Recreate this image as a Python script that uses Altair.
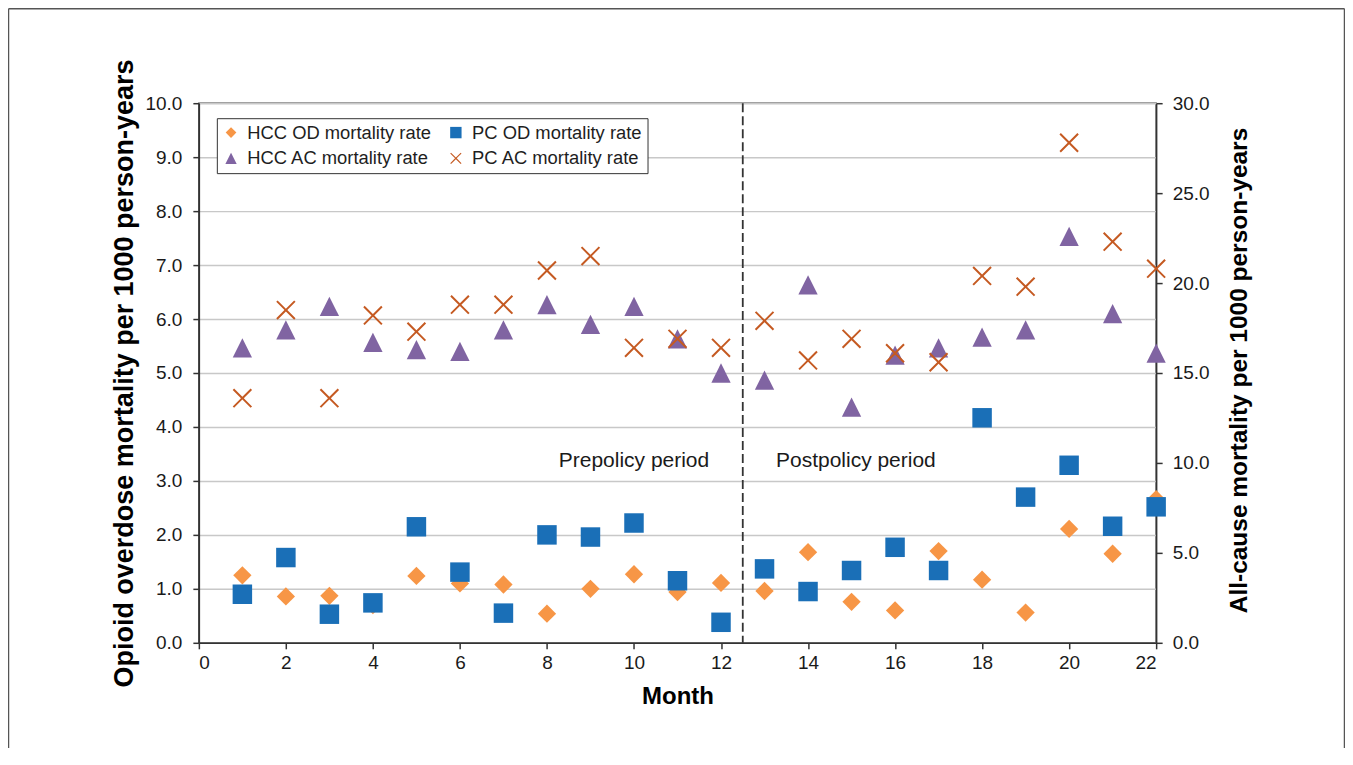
import altair as alt
import pandas as pd

# ---------------- data ----------------
months = list(range(1, 23))
hcc_od = [1.25, 0.86, 0.87, 0.70, 1.24, 1.10, 1.08, 0.54, 1.00, 1.27, 0.94, 1.11,
          0.96, 1.68, 0.76, 0.60, 1.70, 1.17, 0.56, 2.11, 1.65, 2.66]
pc_od = [0.90, 1.58, 0.53, 0.74, 2.15, 1.31, 0.55, 2.00, 1.96, 2.22, 1.15, 0.38,
         1.37, 0.95, 1.34, 1.77, 1.34, 4.17, 2.70, 3.29, 2.16, 2.52]
hcc_ac = [16.4, 17.4, 18.7, 16.7, 16.3, 16.2, 17.4, 18.8, 17.7, 18.7, 16.9, 15.0,
          14.6, 19.9, 13.1, 16.0, 16.4, 17.0, 17.4, 22.6, 18.3, 16.1]
pc_ac = [13.6, 18.5, 13.6, 18.2, 17.3, 18.8, 18.8, 20.7, 21.5, 16.4, 16.9, 16.4,
         17.9, 15.7, 16.9, 16.1, 15.6, 20.4, 19.8, 27.8, 22.3, 20.8]

# legend order (filled column by column: HCC OD, HCC AC | PC OD, PC AC)
series_names = ["HCC OD mortality rate", "HCC AC mortality rate",
                "PC OD mortality rate", "PC AC mortality rate"]
series_colors = ["#f79646", "#8064a2", "#1a6fb7", "#c55a22"]

# marker outlines (unit box, scaled by the mark size)
DIAMOND = "M-0.94,0L0,-0.94L0.94,0L0,0.94Z"
SQUARE = "M-1,-1L1,-1L1,1L-1,1Z"
TRIANGLE = "M0,-0.99L0.99,0.99L-0.99,0.99Z"
_s, _c, _e = 0.073, 0.146, 0.92
CROSS = (f"M0,-{_c}L{_e-_s},-{_e+_s}L{_e+_s},-{_e-_s}L{_c},0"
         f"L{_e+_s},{_e-_s}L{_e-_s},{_e+_s}L0,{_c}"
         f"L-{_e-_s},{_e+_s}L-{_e+_s},{_e-_s}L-{_c},0"
         f"L-{_e+_s},-{_e-_s}L-{_e-_s},-{_e+_s}Z")
series_shapes = [DIAMOND, TRIANGLE, SQUARE, CROSS]

x_ticks = list(range(0, 23, 2))
left_ticks = list(range(0, 11))
right_ticks = list(range(0, 31, 5))

policy_break = [12.5]
period_labels = ["Prepolicy period", "Postpolicy period"]
period_x = [10.0, 15.1]
period_y = [3.36, 3.36]

od = pd.DataFrame({
    "month": months * 2,
    "value": hcc_od + pc_od,
    "series": ["HCC OD mortality rate"] * len(months) + ["PC OD mortality rate"] * len(months),
})
ac = pd.DataFrame({
    "month": months * 2,
    "value": hcc_ac + pc_ac,
    "series": ["HCC AC mortality rate"] * len(months) + ["PC AC mortality rate"] * len(months),
})
brk = pd.DataFrame({"x": policy_break})
periods = pd.DataFrame({"label": period_labels, "x": period_x, "y": period_y})
one = pd.DataFrame({"a": [0]})

FONT = "Liberation Sans"

legend = alt.Legend(
    title=None, orient="none", legendX=18, legendY=15, columns=2,
    columnPadding=15, rowPadding=7, padding=5, labelOffset=7,
    symbolSize=130, labelFont=FONT, labelFontSize=18.4,
    labelColor="#1e1e1e", labelLimit=400, strokeColor="#333333",
    fillColor="white",
)

x_enc = alt.X(
    "month:Q",
    scale=alt.Scale(domain=[0, 22], nice=False, zero=False),
    axis=alt.Axis(values=x_ticks, title="Month", grid=False, format="d",
                  labelPadding=5, titleFontSize=24, titleX=479, titleY=54,
                  titleBaseline="middle"),
)

color_enc = alt.Color("series:N", scale=alt.Scale(domain=series_names, range=series_colors), legend=legend)
shape_enc = alt.Shape("series:N", scale=alt.Scale(domain=series_names, range=series_shapes), legend=legend)

od_layer = alt.Chart(od).mark_point(filled=True, opacity=1, size=380).encode(
    x=x_enc,
    y=alt.Y("value:Q", scale=alt.Scale(domain=[0, 10], nice=False),
            axis=alt.Axis(orient="left", values=left_ticks, format=".1f",
                          title="Opioid overdose mortality per 1000 person-years",
                          titleFontSize=27, titleAngle=270, titleX=-74, titleY=270,
                          titleAlign="center", titleBaseline="middle",
                          labelPadding=11, grid=True)),
    color=color_enc, shape=shape_enc,
)

ac_layer = alt.Chart(ac).mark_point(filled=True, opacity=1, size=380).encode(
    x=x_enc,
    y=alt.Y("value:Q", scale=alt.Scale(domain=[0, 30], nice=False),
            axis=alt.Axis(orient="right", values=right_ticks, format=".1f",
                          title="All-cause mortality per 1000 person-years",
                          titleFontSize=24.5, titleAngle=270, titleX=83, titleY=267,
                          titleAlign="center", titleBaseline="middle",
                          labelPadding=10, grid=False)),
    color=color_enc, shape=shape_enc,
)

rule_layer = alt.Chart(brk).mark_rule(color="#333333", strokeWidth=1.8, strokeDash=[9, 4]).encode(
    x=alt.X("x:Q")
)

text_layer = alt.Chart(periods).mark_text(
    font=FONT, fontSize=21, color="#1a1a1a", align="center", baseline="middle"
).encode(
    x=alt.X("x:Q"),
    y=alt.Y("y:Q", scale=alt.Scale(domain=[0, 10], nice=False), axis=None),
    text="label:N",
)

border_style = dict(color="#555555", strokeWidth=1.5)
border_left = alt.Chart(one).mark_rule(**border_style).encode(
    x=alt.value(-190.5), y=alt.value(-94.5), y2=alt.value(660))
border_top = alt.Chart(one).mark_rule(**border_style).encode(
    x=alt.value(-190.5), x2=alt.value(1146.5), y=alt.value(-94.5))
border_right = alt.Chart(one).mark_rule(**border_style).encode(
    x=alt.value(1146.5), y=alt.value(-94.5), y2=alt.value(660))

chart = alt.layer(
    od_layer, ac_layer, rule_layer, text_layer, border_left, border_top, border_right
).resolve_scale(
    y="independent"
).properties(
    width=958, height=540,
    autosize=alt.AutoSizeParams(type="none"),
    padding={"left": 191, "top": 95, "right": 189, "bottom": 105},
    background="white",
).configure_view(
    stroke="#444444", strokeWidth=1.5
).configure_axis(
    labelFont=FONT, labelFontSize=19, labelColor="#1a1a1a",
    titleFont=FONT, titleFontWeight="bold", titleColor="#000000",
    domainColor="#333333", domainWidth=1.5, tickColor="#333333",
    tickWidth=1.5, tickSize=6, gridColor="#c8c8c8", gridWidth=1.5,
)

chart.save("out.html", embed_options={"renderer": "svg", "actions": False})
